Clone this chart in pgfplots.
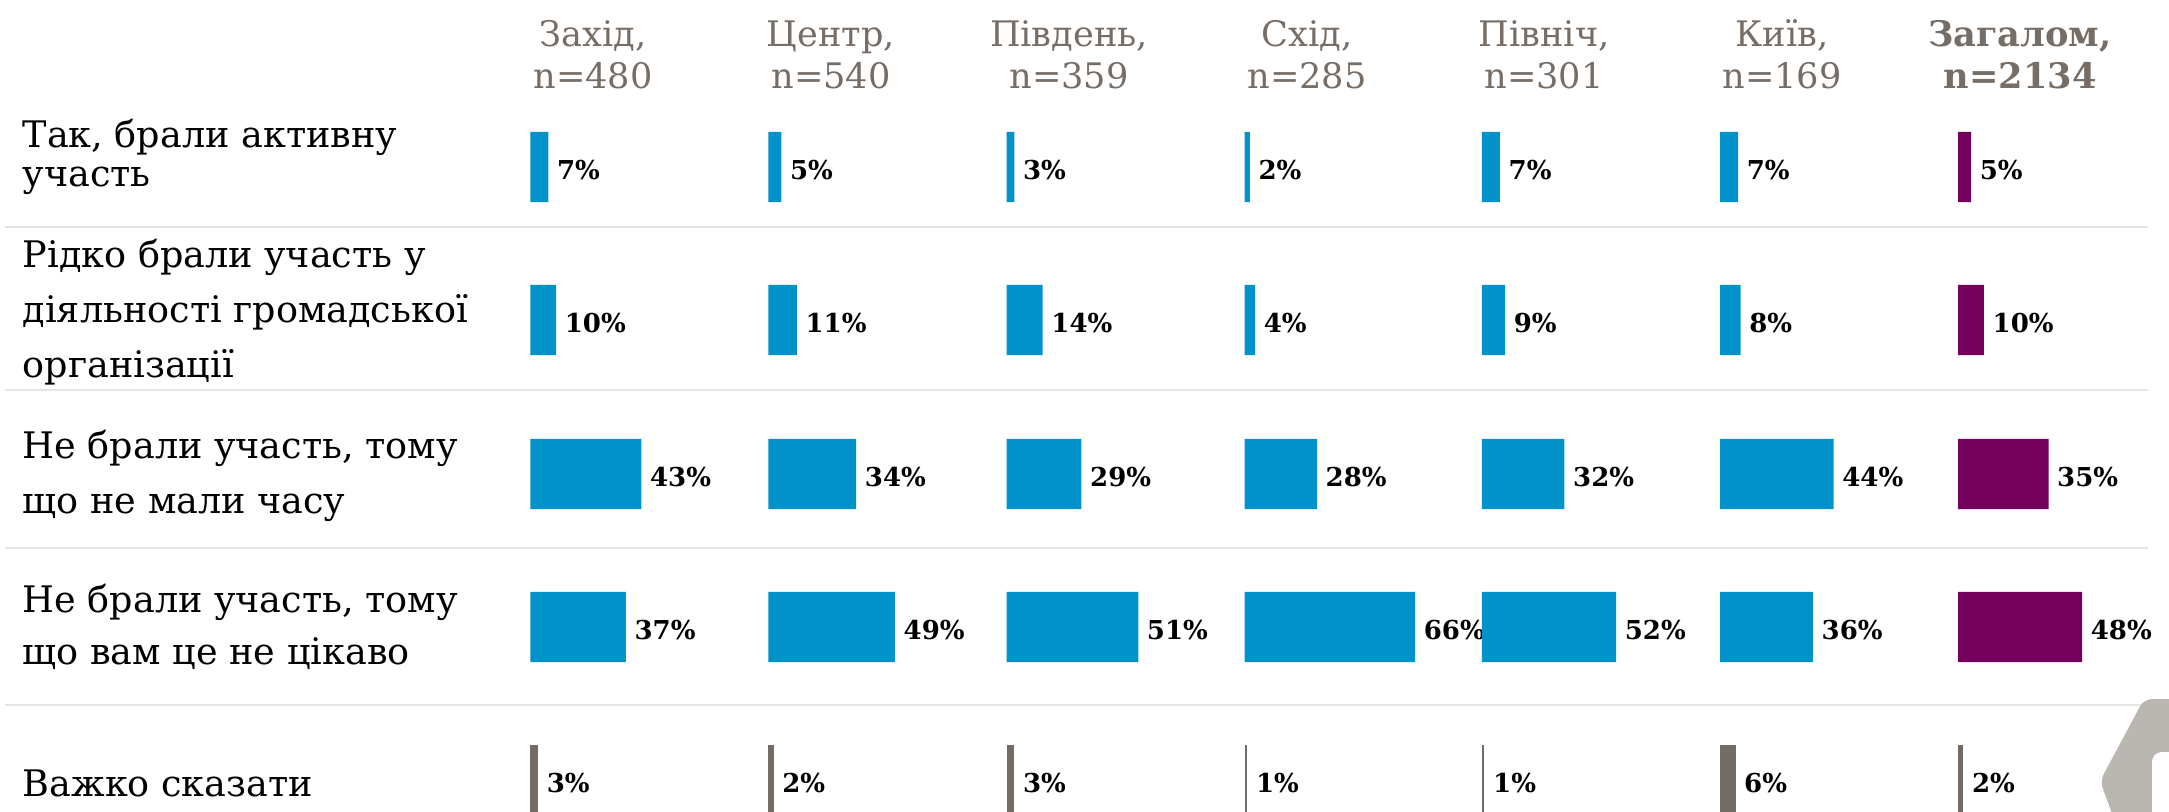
\documentclass[border=0pt]{standalone}
\usepackage{pgfplots}
\pgfplotsset{compat=1.18}
\usepackage{pgfplotstable}
\usepackage{fontspec}
\setmainfont{DejaVu Serif}
\definecolor{cblue}{HTML}{0092C8}
\definecolor{cpurple}{HTML}{73005A}
\definecolor{cgreyb}{HTML}{746B64}
\definecolor{chdr}{HTML}{766D66}
\definecolor{csep}{HTML}{E4E4E2}
\definecolor{cwm}{HTML}{BAB6B2}
\newcommand{\lab}{\fontsize{10.4pt}{12pt}\selectfont}
\newcommand{\hdr}{\fontsize{10pt}{12pt}\selectfont}
\newcommand{\pct}{\fontsize{7.4pt}{9pt}\selectfont\bfseries}

\pgfplotstableread{
y c1 c2 c3 c4 c5 c6 c7
167 7 5 3 2 7 7 5
320 10 11 14 4 9 8 10
474 43 34 29 28 32 44 35
627 37 49 51 66 52 36 48
}\mainTbl
\pgfplotstableread{
y c1 c2 c3 c4 c5 c6 c7
780 3 2 3 1 1 6 2
}\lastTbl

\pgfplotsset{
  col/.style={anchor=north west, hide axis, y=0.01cm, y dir=reverse,
    xmin=0, xmax=90, ymin=0, ymax=812, clip=false,
    /pgf/number format/assume math mode=true},
  hbar/.style={xbar, bar shift=0pt, bar width=0.70cm, draw=none, fill=#1,
    point meta=x,
    nodes near coords={\pgfmathprintnumber[assume math mode=true]{\pgfplotspointmeta}\%},
    every node near coord/.append style={font=\pct, text=black,
      anchor=base west, inner sep=0pt, xshift=0.08cm, yshift=-0.12cm}},
}
\newcommand{\column}[4]{%
\begin{axis}[col, x=#4, at={(#1cm,0cm)}]
\addplot[hbar=#3] table[x=#2,y=y]{\mainTbl};
\addplot[hbar=cgreyb] table[x=#2,y=y]{\lastTbl};
\end{axis}}

\begin{document}
\begin{tikzpicture}[x=0.01cm,y=-0.01cm]
% separators
\foreach \yy in {227,390,548,705}{
  \draw[line width=0.022cm, csep] (5,\yy) -- (2148,\yy);
}
% watermark
\fill[cwm, rounded corners=0.08cm] (2100,781) -- (2144,699) -- (2300,699) -- (2300,900) -- (2144,900) -- cycle;
\fill[white, rounded corners=0.1cm] (2152,752) rectangle (2230,860);

\column{5.30}{c1}{cblue}{0.0258cm}
\column{7.68}{c2}{cblue}{0.0258cm}
\column{10.06}{c3}{cblue}{0.0258cm}
\column{12.44}{c4}{cblue}{0.0258cm}
\column{14.81}{c5}{cblue}{0.0258cm}
\column{17.19}{c6}{cblue}{0.0258cm}
\column{19.57}{c7}{cpurple}{0.0258cm}

% headers
\begin{scope}[every node/.style={anchor=base, font=\hdr, text=chdr, inner sep=0pt}]
\node at (593,46) {Захід,};   \node at (593,88) {n=480};
\node at (831,46) {Центр,};   \node at (831,88) {n=540};
\node at (1069,46) {Південь,}; \node at (1069,88) {n=359};
\node at (1307,46) {Схід,};   \node at (1307,88) {n=285};
\node at (1544,46) {Північ,}; \node at (1544,88) {n=301};
\node at (1782,46) {Київ,};   \node at (1782,88) {n=169};
\node[font=\hdr\bfseries] at (2020,46) {Загалом,}; \node[font=\hdr\bfseries] at (2020,88) {n=2134};
\end{scope}

% row labels
\begin{scope}[every node/.style={anchor=base west, font=\lab, text=black, inner sep=0pt}]
\node at (22,147) {Так, брали активну};
\node at (22,186) {участь};
\node at (22,267) {Рідко брали участь у};
\node at (22,322) {діяльності громадської};
\node at (22,377) {організації};
\node at (22,458) {Не брали участь, тому};
\node at (22,513) {що не мали часу};
\node at (22,612) {Не брали участь, тому};
\node at (22,664) {що вам це не цікаво};
\node at (22,796) {Важко сказати};
\end{scope}

\pgfresetboundingbox
\path[use as bounding box] (0,0) rectangle (2169,812);
\end{tikzpicture}
\end{document}
